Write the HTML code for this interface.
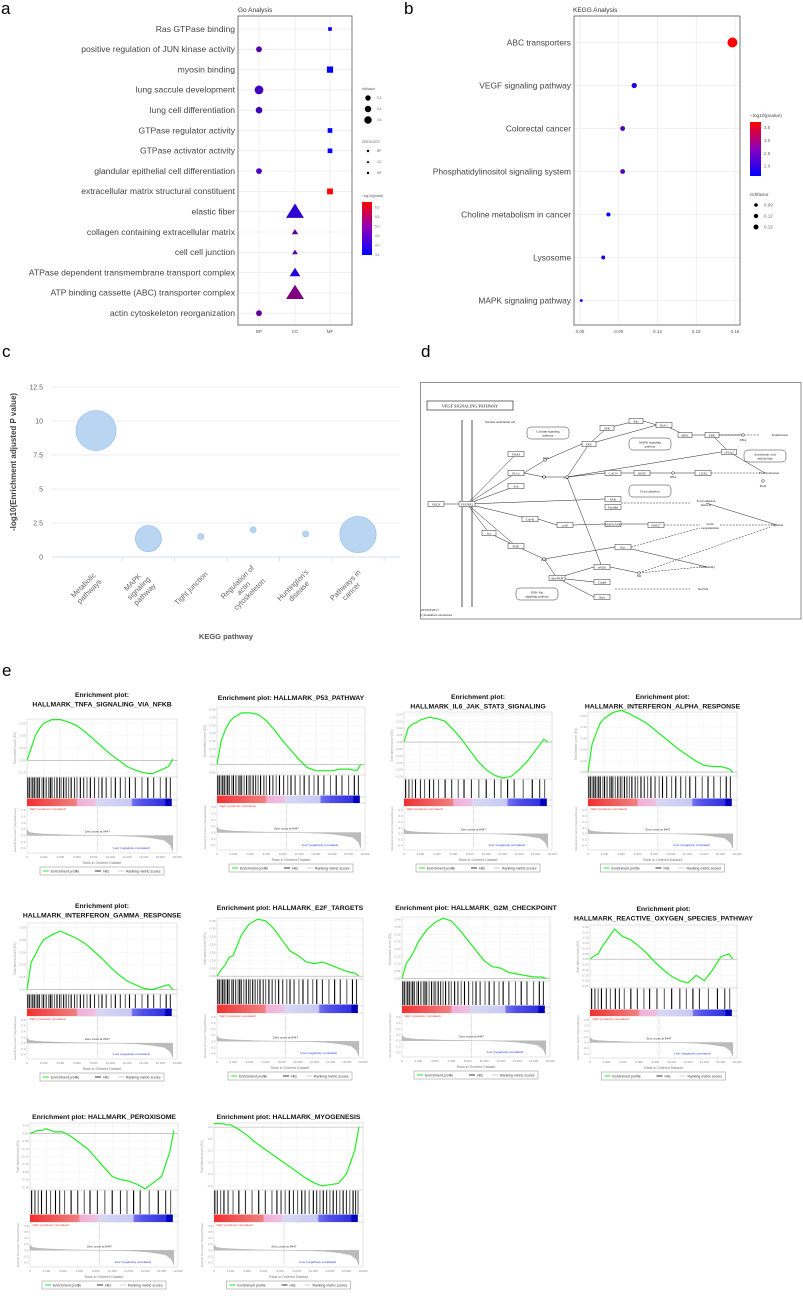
<!DOCTYPE html>
<html><head><meta charset="utf-8">
<style>
html,body{margin:0;padding:0;background:#fff;}
svg{display:block;font-family:"Liberation Sans",sans-serif;}
</style></head>
<body>
<svg id="fig" xmlns="http://www.w3.org/2000/svg" width="803" height="1296" viewBox="0 0 803 1296">
<defs>
<linearGradient id="gA" x1="0" y1="1" x2="0" y2="0"><stop offset="0" stop-color="#0000ff"/><stop offset="0.5" stop-color="#8a00c0"/><stop offset="1" stop-color="#ff0000"/></linearGradient>
<linearGradient id="gCB" x1="0" y1="0" x2="1" y2="0">
<stop offset="0" stop-color="#f03030"/><stop offset="0.2" stop-color="#f06060"/><stop offset="0.34" stop-color="#f08080"/><stop offset="0.35" stop-color="#f0b0d8"/><stop offset="0.47" stop-color="#f0c0e0"/><stop offset="0.48" stop-color="#d8d8f4"/><stop offset="0.72" stop-color="#c8c8f4"/><stop offset="0.73" stop-color="#7070f0"/><stop offset="0.8" stop-color="#5050e8"/><stop offset="0.95" stop-color="#3030e0"/><stop offset="0.96" stop-color="#0000c0"/><stop offset="1" stop-color="#0000b0"/></linearGradient>
</defs>
<g id="pa"></g>
<g id="pb"></g>
<g id="pc"></g>
<g id="pd"></g>
<g id="pe"></g>
</svg>
<script>
// ---------- Panel a data ----------
const goTerms = ["Ras GTPase binding","positive regulation of JUN kinase activity","myosin binding","lung saccule development","lung cell differentiation","GTPase regulator activity","GTPase activator activity","glandular epithelial cell differentiation","extracellular matrix structural constituent","elastic fiber","collagen  containing extracellular matrix","cell  cell junction","ATPase dependent transmembrane transport complex","ATP  binding cassette (ABC) transporter complex","actin cytoskeleton reorganization"];
const goOntology = ["MF","BP","MF","BP","BP","MF","MF","BP","MF","CC","CC","CC","CC","CC","BP"];
const goRich = [0.1,0.2,0.28,0.38,0.25,0.17,0.17,0.2,0.25,0.7,0.15,0.12,0.35,0.7,0.2];
const goPval = [3.5,4.3,3.4,4.1,4.1,3.5,3.5,4.2,6.2,3.9,4.4,4.4,3.8,4.8,4.5];
const goCats = ["BP","CC","MF"];
const goColorTicks = [6.0,5.5,5.0,4.5,4.0,3.5];
const goRichTicks = [0.2,0.4,0.6];
// ---------- Panel b data ----------
const keggTerms = ["ABC transporters","VEGF signaling pathway","Colorectal cancer","Phosphatidylinositol signaling system","Choline metabolism in cancer","Lysosome","MAPK signaling pathway"];
const keggRich = [0.178,0.102,0.093,0.093,0.082,0.078,0.061];
const keggPval = [3.7,1.9,2.2,2.3,1.6,1.8,1.65];
const keggXTicks = [0.06,0.09,0.12,0.15,0.18];
const keggColorTicks = [3.5,3.0,2.5,2.0];
const keggRichTicks = [0.09,0.12,0.15];
// ---------- Panel c data ----------
const cCats = [["Metabolic","pathways"],["MAPK","signaling","pathway"],["Tight junction"],["Regulation of","actin","cytoskeleton"],["Huntington's","disease"],["Pathways in","cancer"]];
const cVals = [9.3,1.35,1.5,2.0,1.7,1.65];
const cSizes = [400,170,9,9,9,330];
const cYTicks = [0,2.5,5,7.5,10,12.5];
// ---------- Panel e data ----------
const rankPos = [0,0.5,1,1.5,2,3,4,5,6,7,8,9,10,11,12,13,14,15,16,17,17.5];
const esTNFA = [0,0.1,0.2,0.26,0.3,0.33,0.33,0.31,0.28,0.23,0.17,0.11,0.05,0,-0.05,-0.08,-0.1,-0.11,-0.08,-0.05,0.01];
const esP53 = [0,0.15,0.22,0.27,0.3,0.33,0.33,0.32,0.28,0.22,0.15,0.09,0.03,-0.02,-0.04,-0.04,-0.04,-0.03,-0.03,-0.04,0];
const esIL6 = [0,0.1,0.13,0.14,0.16,0.18,0.17,0.15,0.09,0.02,-0.06,-0.14,-0.2,-0.24,-0.26,-0.25,-0.2,-0.14,-0.06,0.02,0];
const esIFNA = [0,0.25,0.35,0.44,0.48,0.53,0.55,0.52,0.48,0.44,0.38,0.32,0.26,0.2,0.15,0.1,0.06,0.05,0.05,0.03,0];
const esIFNG = [0,0.22,0.28,0.35,0.4,0.44,0.47,0.44,0.41,0.37,0.31,0.25,0.18,0.12,0.07,0.04,0.01,0,0.02,0.04,0];
const esE2F = [0,0.04,0.07,0.12,0.13,0.26,0.33,0.36,0.35,0.3,0.23,0.16,0.13,0.09,0.08,0.09,0.07,0.05,0.03,0.02,0];
const esG2M = [0,0.1,0.14,0.19,0.25,0.33,0.38,0.41,0.39,0.33,0.26,0.19,0.12,0.08,0.07,0.04,0.03,0.02,0.01,0.01,0];
const esROS = [0,0.03,0.05,0.12,0.17,0.28,0.21,0.18,0.12,0.05,-0.03,-0.1,-0.16,-0.2,-0.22,-0.15,-0.2,-0.1,0.02,0.05,0];
const esPEROX = [0,0.01,0.02,0.02,0.03,0.01,0.01,-0.02,-0.06,-0.1,-0.16,-0.22,-0.28,-0.3,-0.31,-0.33,-0.36,-0.32,-0.28,-0.12,0.02];
const esMYO = [0.03,0.03,0.03,0.02,0.02,-0.02,-0.07,-0.13,-0.18,-0.23,-0.28,-0.33,-0.38,-0.43,-0.47,-0.5,-0.49,-0.48,-0.4,-0.2,0];
const ticksTNFA = [0.3,0.2,0.1,0.0,-0.1];
const ticksP53 = [0.35,0.30,0.25,0.20,0.15,0.10,0.05,0.00,-0.05];
const ticksIL6 = [0.20,0.15,0.10,0.05,0.00,-0.05,-0.10,-0.15,-0.20,-0.25];
const ticksIFNA = [0.5,0.4,0.3,0.2,0.1,0.0];
const ticksIFNG = [0.5,0.4,0.3,0.2,0.1,0.0];
const ticksE2F = [0.35,0.30,0.25,0.20,0.15,0.10,0.05,0.00];
const ticksG2M = [0.40,0.35,0.30,0.25,0.20,0.15,0.10,0.05,0.00];
const ticksROS = [0.30,0.25,0.20,0.15,0.10,0.05,0.00,-0.05,-0.10,-0.15,-0.20,-0.25];
const ticksPEROX = [0.05,0.00,-0.05,-0.10,-0.15,-0.20,-0.25,-0.30,-0.35];
const ticksMYO = [0.0,-0.1,-0.2,-0.3,-0.4,-0.5];
const hitsDense = [0.1,0.3,0.5,0.7,0.9,1.1,1.3,1.5,1.8,2.0,2.3,2.6,2.8,3.0,3.3,3.6,3.9,4.1,4.4,4.7,5.0,5.3,5.7,6.0,6.4,6.8,7.2,7.6,8.1,8.6,9.0,9.5,10.1,10.6,11.2,11.8,12.3,13.0,13.8,14.5,15.2,16.0,16.7,17.2];
const hitsSparse = [0.2,0.6,1.0,1.4,2.0,2.5,3.1,3.6,4.2,5.0,5.8,6.6,7.3,8.2,9.1,10.0,11.0,11.8,12.6,13.4,14.5,15.6,16.5,17.1];
const hitsLate = [0.1,0.4,0.8,1.2,1.7,2.3,3.0,3.8,4.6,5.4,6.2,7.0,7.6,8.1,8.6,9.1,9.6,10.1,10.6,11.0,11.5,12.0,12.4,12.8,13.2,13.6,14.0,14.4,14.8,15.2,15.6,16.0,16.4,16.8,17.1,17.4];
const metricRanks = [0,0.3,1,2,3,4,5,6,7,8,8.45,10,11,12,13,14,15,16.5,17.2,17.5];
const metricVals = [0.18,0.1,0.07,0.05,0.04,0.03,0.02,0.015,0.01,0.005,0,-0.005,-0.01,-0.02,-0.03,-0.05,-0.08,-0.15,-0.3,-0.5];
const metricTicks = [0.8,0.6,0.4,0.2,0.0,-0.2,-0.4];
const rankTicks = [0,2,4,6,8,10,12,14,16,18];

const NS = "http://www.w3.org/2000/svg";
function el(tag, attrs, parent, txt){
  const e = document.createElementNS(NS, tag);
  for (const k in attrs) e.setAttribute(k, attrs[k]);
  if (txt !== undefined) e.textContent = txt;
  parent.appendChild(e);
  return e;
}
function colBR(v, lo, hi){
  let t = Math.max(0, Math.min(1, (v-lo)/(hi-lo)));
  const r = Math.round(255*t), b = Math.round(255*(1-t)), g = 0;
  return `rgb(${r},${g},${b})`;
}
const fig = document.getElementById('fig');
let lab;
lab = el('text',{x:1,y:14,'font-size':17,fill:'#000'},fig,'a');
 
lab = el('text',{x:404,y:14,'font-size':17,fill:'#000'},fig,'b');
 
lab = el('text',{x:2,y:357,'font-size':17,fill:'#000'},fig,'c');
 
lab = el('text',{x:421,y:357,'font-size':17,fill:'#000'},fig,'d');
 
lab = el('text',{x:2,y:676,'font-size':17,fill:'#000'},fig,'e');
 

// ================= Panel a =================
(function(){
  const g = document.getElementById('pa');
  const L=238,R=352,T=16,B=325;
  const rowY = i => 29 + i*20.3;
  const colX = c => ({BP:259,CC:295,MF:330})[c];
  let t = el('text',{x:238,y:12,'font-size':6.5,fill:'#333'},g,'Go Analysis');
   
  goTerms.forEach((s,i)=>{ const gl = el('line',{x1:L,x2:R,y1:rowY(i),y2:rowY(i),stroke:'#ebebeb','stroke-width':0.8},g);
      });
  goCats.forEach(c=>{ const gl = el('line',{x1:colX(c),x2:colX(c),y1:T,y2:B,stroke:'#ebebeb','stroke-width':0.8},g);
     
    const tl = el('text',{x:colX(c),y:333,'font-size':4.5,fill:'#555','text-anchor':'middle'},g,c);
      });
  const box = el('rect',{x:L,y:T,width:R-L,height:B-T,fill:'none',stroke:'#555','stroke-width':0.8},g);
   
  goTerms.forEach((s,i)=>{
    const tl = el('text',{x:235,y:rowY(i)+2.8,'font-size':8.6,fill:'#444','text-anchor':'end'},g,s);
     
    const x = colX(goOntology[i]), y = rowY(i), sz = 1.5 + goRich[i]*9.5, c = colBR(goPval[i],3.4,6.2);
    let m;
    if (goOntology[i]==='BP') m = el('circle',{cx:x,cy:y,r:sz*0.85,fill:c},g);
    else if (goOntology[i]==='MF') m = el('rect',{x:x-sz*0.75,y:y-sz*0.75,width:sz*1.5,height:sz*1.5,fill:c},g);
    else m = el('polygon',{points:`${x},${y-sz} ${x-sz*1.1},${y+sz*0.75} ${x+sz*1.1},${y+sz*0.75}`,fill:c},g);
     
  });
  t = el('text',{x:362,y:90,'font-size':3.2,fill:'#555'},g,'richfactor');
   
  goRichTicks.forEach((v,i)=>{ const y=98+i*11;
    const d = el('circle',{cx:368,cy:y,r:2.2+v*2.5,fill:'#000'},g);
     
    const l = el('text',{x:377,y:y+1.2,'font-size':3.2,fill:'#666'},g,v.toFixed(1));
      });
  t = el('text',{x:362,y:143,'font-size':3.2,fill:'#555'},g,'ONTOLOGY');
   
  goCats.forEach((c,i)=>{ const y=151+i*11; let m;
    if(c==='BP') m=el('circle',{cx:368,cy:y,r:1.2,fill:'#000'},g);
    else if(c==='CC') m=el('polygon',{points:`368,${y-1.5} 366.5,${y+1} 369.5,${y+1}`,fill:'#000'},g);
    else m=el('rect',{x:366.9,y:y-1.1,width:2.2,height:2.2,fill:'#000'},g);
     
    const l=el('text',{x:377,y:y+1.2,'font-size':3.2,fill:'#666'},g,c);
      });
  t = el('text',{x:362,y:197,'font-size':3.2,fill:'#555'},g,'−log10(pvalue)');
   
  const cb = el('rect',{x:362,y:202,width:10,height:53,fill:'url(#gA)'},g);
   
  goColorTicks.forEach(v=>{ const y = 254.6-(v-3.5)*19;
    const l=el('text',{x:375,y:y+1.2,'font-size':3.2,fill:'#666'},g,v.toFixed(1));
      });
})();

// ================= Panel b =================
(function(){
  const g = document.getElementById('pb');
  const L=574,R=740,T=16,B=325;
  const xS = v => 580 + (v-0.06)/0.12*155;
  const rowY = i => 42.5 + i*43;
  let t = el('text',{x:573,y:12,'font-size':6.5,fill:'#333'},g,'KEGG Analysis');
   
  keggXTicks.forEach(v=>{ const gl=el('line',{x1:xS(v),x2:xS(v),y1:T,y2:B,stroke:'#ebebeb','stroke-width':0.8},g);
     
    const tl=el('text',{x:xS(v),y:333,'font-size':4.5,fill:'#555','text-anchor':'middle'},g,v.toFixed(2));
      });
  keggTerms.forEach((s,i)=>{ const gl=el('line',{x1:L,x2:R,y1:rowY(i),y2:rowY(i),stroke:'#ebebeb','stroke-width':0.8},g);
      });
  const box = el('rect',{x:L,y:T,width:R-L,height:B-T,fill:'none',stroke:'#555','stroke-width':0.8},g);
   
  keggTerms.forEach((s,i)=>{
    const tl=el('text',{x:571,y:rowY(i)+2.8,'font-size':8.4,fill:'#444','text-anchor':'end'},g,s);
     
    const p=el('circle',{cx:xS(keggRich[i]),cy:rowY(i),r:1.4+(keggRich[i]-0.06)*30,fill:colBR(keggPval[i],1.6,3.7)},g);
     
  });
  t=el('text',{x:750,y:117,'font-size':4.8,fill:'#444'},g,'−log10(pvalue)');
   
  const cb=el('rect',{x:750,y:122,width:11,height:54,fill:'url(#gA)'},g);
   
  keggColorTicks.forEach(v=>{ const y=166-(v-2)*25.7;
    const l=el('text',{x:764,y:y+1.6,'font-size':4.5,fill:'#666'},g,v.toFixed(1));
      });
  t=el('text',{x:750,y:196,'font-size':4.5,fill:'#444'},g,'richfactor');
   
  keggRichTicks.forEach((v,i)=>{ const y=205+i*11;
    const d=el('circle',{cx:756,cy:y,r:1.8+(v-0.09)*12,fill:'#000'},g);
     
    const l=el('text',{x:764,y:y+1.6,'font-size':4.5,fill:'#666'},g,v.toFixed(2));
      });
})();

// ================= Panel c =================
(function(){
  const g=document.getElementById('pc');
  const L=52,R=400, y0=557, k=13.6;
  const yS = v => y0 - v*k;
  const xS = i => 96 + i*52.4;
  cYTicks.forEach(v=>{ const gl=el('line',{x1:L,x2:R,y1:yS(v),y2:yS(v),stroke:v===0?'#d5e0ee':'#e8eef6','stroke-width':1},g);
     
    const tl=el('text',{x:43,y:yS(v)+2.5,'font-size':7,fill:'#666','text-anchor':'end'},g,String(v));
      });
  for(let i=1;i<=cCats.length;i++){ const x=xS(i)-26.2;
    const tk=el('line',{x1:x,x2:x,y1:y0,y2:y0+4,stroke:'#d5e0ee','stroke-width':1},g);
      }
  cCats.forEach((lines,i)=>{
    const b=el('circle',{cx:xS(i),cy:yS(cVals[i]),r:Math.sqrt(cSizes[i]),fill:'#b9d5f2',stroke:'#8fbbe8','stroke-width':0.6},g);
     
    const n=lines.length;
    const tx=el('text',{transform:`translate(${xS(i)-8},${590}) rotate(-45)`,'font-size':7.4,fill:'#666','text-anchor':'middle'},g);
     
    lines.forEach((s,j)=>{ el('tspan',{x:0,y:(j-(n-1)/2)*8.5},tx,s); });
  });
  let t=el('text',{transform:'translate(16,462) rotate(-90)','font-size':8,'font-weight':'bold',fill:'#444','text-anchor':'middle'},g,'-log10(Enrichment adjusted P value)');
   
  t=el('text',{x:226,y:639,'font-size':7.5,'font-weight':'bold',fill:'#555','text-anchor':'middle'},g,'KEGG pathway');
   
})();

// ================= Panel d (diagram) =================
(function(){
  const g=document.getElementById('pd');
  const fr=el('rect',{x:420.5,y:382.5,width:380.5,height:236.5,fill:'#fff',stroke:'#777','stroke-width':0.8},g);
   
  const tb=el('rect',{x:427,y:401,width:86,height:9,fill:'none',stroke:'#333','stroke-width':0.7},g);
   
  let t=el('text',{x:470,y:407.5,'font-size':4.3,'font-family':'Liberation Serif',fill:'#111','text-anchor':'middle'},g,'VEGF SIGNALING PATHWAY');
   
  [462,472].forEach(x=>{ const l=el('line',{x1:x,x2:x,y1:420,y2:607,stroke:'#444','stroke-width':0.9},g);
      });
  const nodes=[["VRAP",516,454,16],["PLCγ",516,473,16],["Sck",516,486,16],["VEGF",436,504,16],["VEGFR2",467,504,16],["PKC",589,444,14],["SPK",607,428,14],["Ras",636,421,14],["Raf-1",664,425,16],["MEK",685,435,14],["ERK",712,435,14],["cPLA2",729,452,15],["CALN",613,473,16],["NFAT",642,473,16],["COX2",703,473,16],["FAK",613,499,16],["Paxillin",613,507,16],["Cdc42",530,519,16],["p38",565,525,16],["MAPKAPK",613,524,16],["HSP27",656,525,16],["Src",489,533,14],["PI3K",516,546,16],["Rac",623,547,16],["eNOS",602,567,16],["Akt/PKB",557,578,16],["Casp9",602,582,16],["Bad",602,597,16]];
  const links=[[467,504,516,454],[467,504,516,473],[467,504,516,486],[436,504,459,504],[467,504,605,499],[467,504,530,519],[467,504,489,533],[467,504,516,546],[524,473,545,460],[545,460,582,444],[524,473,544,477],[544,477,567,477],[567,477,589,444],[589,444,607,428],[607,428,636,421],[589,444,657,425],[643,421,657,425],[664,425,685,435],[692,435,705,435],[712,435,743,435],[567,477,605,473],[621,473,634,473],[650,473,695,473],[567,477,721,452],[712,435,729,452],[729,452,765,473],[567,477,602,567],[538,519,557,525],[573,525,605,524],[621,524,648,524],[489,533,516,546],[516,546,544,559],[544,559,615,547],[544,559,557,578],[557,578,594,567],[557,578,594,582],[557,578,594,597],[623,547,707,567],[610,567,639,573],[706,503,777,525]];
  links.forEach(a=>{ const l=el('line',{x1:a[0],y1:a[1],x2:a[2],y2:a[3],stroke:'#222','stroke-width':0.5},g);
      });
  const dashed=[[621,503,690,503],[664,525,700,525],[720,525,770,525],[631,547,700,528],[712,435,760,435],[711,473,760,473],[639,573,700,567],[639,573,770,527],[615,589,690,589]];
  dashed.forEach(a=>{ const l=el('line',{x1:a[0],y1:a[1],x2:a[2],y2:a[3],stroke:'#222','stroke-width':0.5,'stroke-dasharray':'2,1.2'},g);
      });
  nodes.forEach(n=>{ const r=el('rect',{x:n[1]-n[3]/2,y:n[2]-2.6,width:n[3],height:5.2,fill:'#fff',stroke:'#333','stroke-width':0.5},g);
     
    const tx=el('text',{x:n[1],y:n[2]+1.3,'font-size':3.3,'font-family':'Liberation Serif',fill:'#111','text-anchor':'middle'},g,n[0]);
      });
  const rounds=[["Calcium signaling","pathway",548,433,42],["MAPK signaling","pathway",650,444,42],["Arachidonic acid","metabolism",765,456,42],["Focal adhesion","",650,491,42],["PI3K-Akt","signaling pathway",537,594,42]];
  rounds.forEach(n=>{ const r=el('rect',{x:n[2]-n[4]/2,y:n[3]-6,width:n[4],height:12,rx:4,fill:'#fff',stroke:'#333','stroke-width':0.5},g);
     
    const tx=el('text',{x:n[2],y:n[1]?n[3]-0.5:n[3]+1.3,'font-size':3.2,'font-family':'Liberation Serif',fill:'#111','text-anchor':'middle'},g,n[0]);
     
    if(n[1]){ const t2=el('text',{x:n[2],y:n[3]+3.3,'font-size':3.2,'font-family':'Liberation Serif',fill:'#111','text-anchor':'middle'},g,n[1]);
        } });
  const labels=[["Vascular endothelial cell",500,423],["Proliferation",780,436],["PGI2production",769,474],["PGI2",763,487],["Focal adhesion",706,502],["turnover",706,506],["Migration",777,526],["Actin",710,525],["reorganization",710,529],["Permeability",707,568],["Survival",703,590],["DAG",546,459],["IP3",544,478],["Ca2+",567,479],["DNA",743,441],["DNA",673,478],["PIP3",544,561],["NO",639,577],["04370 8/28/17",430,611],["(c) Kanehisa Laboratories",436,616]];
  labels.forEach(n=>{ const tx=el('text',{x:n[1],y:n[2],'font-size':3.1,'font-family':'Liberation Serif',fill:'#111','text-anchor':'middle'},g,n[0]);
      });
  [[545,460],[544,477],[567,477],[743,435],[673,473],[544,559],[639,573],[763,481]].forEach(p=>{
    const c=el('circle',{cx:p[0],cy:p[1],r:1.3,fill:'#fff',stroke:'#222','stroke-width':0.5},g);
      });
})();

// ================= Panel e (GSEA) =================
const gseaCfg = [
 {t:["Enrichment plot:","HALLMARK_TNFA_SIGNALING_VIA_NFKB"],ty:697,x0:27,x1:177,es:esTNFA,tk:ticksTNFA,hits:hitsDense,a:719,b:777,h:800,c:806,m:853},
 {t:["Enrichment plot: HALLMARK_P53_PATHWAY"],ty:700,x0:217,x1:365,es:esP53,tk:ticksP53,hits:hitsDense,a:707,b:775,h:797,c:803,m:850},
 {t:["Enrichment plot:","HALLMARK_IL6_JAK_STAT3_SIGNALING"],ty:699,x0:404,x1:552,es:esIL6,tk:ticksIL6,hits:hitsSparse,a:712,b:779,h:800,c:806,m:850},
 {t:["Enrichment plot:","HALLMARK_INTERFERON_ALPHA_RESPONSE"],ty:699,x0:588,x1:737,es:esIFNA,tk:ticksIFNA,hits:hitsDense,a:712,b:776,h:800,c:806,m:850},
 {t:["Enrichment plot:","HALLMARK_INTERFERON_GAMMA_RESPONSE"],ty:908,x0:27,x1:177,es:esIFNG,tk:ticksIFNG,hits:hitsDense,a:923,b:994,h:1010,c:1016,m:1059},
 {t:["Enrichment plot: HALLMARK_E2F_TARGETS"],ty:910,x0:217,x1:363,es:esE2F,tk:ticksE2F,hits:hitsDense,a:918,b:979,h:1006,c:1013,m:1058},
 {t:["Enrichment plot: HALLMARK_G2M_CHECKPOINT"],ty:910,x0:402,x1:550,es:esG2M,tk:ticksG2M,hits:hitsDense,a:917,b:981,h:1007,c:1013,m:1057},
 {t:["Enrichment plot:","HALLMARK_REACTIVE_OXYGEN_SPECIES_PATHWAY"],ty:911,x0:590,x1:737,es:esROS,tk:ticksROS,hits:hitsSparse,a:925,b:988,h:1011,c:1016,m:1058},
 {t:["Enrichment plot: HALLMARK_PEROXISOME"],ty:1119,x0:30,x1:178,es:esPEROX,tk:ticksPEROX,hits:hitsSparse,a:1123,b:1190,h:1216,c:1222,m:1267},
 {t:["Enrichment plot: HALLMARK_MYOGENESIS"],ty:1119,x0:214,x1:363,es:esMYO,tk:ticksMYO,hits:hitsLate,a:1123,b:1190,h:1216,c:1222,m:1267}
];
(function(){
  const pe=document.getElementById('pe');
  gseaCfg.forEach(cf=>{
    const g=el('g',{},pe);
     
    const xs = r => cf.x0 + r/18*(cf.x1-cf.x0);
    const cx=(cf.x0+cf.x1)/2;
    cf.t.forEach((s,i)=>{ const tt=el('text',{x:cx,y:cf.ty+i*9.5,'font-size':6.8,'font-weight':'bold',fill:'#111','text-anchor':'middle'},g,s);
        });
    const stepT = Math.abs(cf.tk[0]-cf.tk[1]);
    const ymax = cf.tk[0]+stepT*0.35, ymin = cf.tk[cf.tk.length-1]-stepT*0.35;
    const ys = v => cf.a + (ymax-v)/(ymax-ymin)*(cf.b-cf.a);
    rankTicks.forEach(r=>{ const gl=el('line',{x1:xs(r),x2:xs(r),y1:cf.a,y2:cf.b,stroke:'#eee','stroke-width':0.4},g);
        });
    cf.tk.forEach(v=>{ const gl=el('line',{x1:cf.x0,x2:cf.x1,y1:ys(v),y2:ys(v),stroke:'#eee','stroke-width':0.4},g);
       
      const tl=el('text',{x:cf.x0-1.5,y:ys(v)+1,'font-size':3,fill:'#999','text-anchor':'end'},g,v.toFixed(stepT<0.1?2:1));
        });
    const fr=el('rect',{x:cf.x0,y:cf.a,width:cf.x1-cf.x0,height:cf.m-cf.a,fill:'none',stroke:'#ccc','stroke-width':0.5},g);
     
    const z=el('line',{x1:cf.x0,x2:cf.x1,y1:ys(0),y2:ys(0),stroke:'#aaa','stroke-width':0.6},g);
     
    const pts = cf.es.map((v,i)=>`${xs(rankPos[i]).toFixed(1)},${ys(v).toFixed(1)}`).join(' ');
    const pl=el('polyline',{points:pts,fill:'none',stroke:'#22ee22','stroke-width':1.2},g);
     
    const yl=el('text',{transform:`translate(${cf.x0-11},${(cf.a+cf.b)/2}) rotate(-90)`,'font-size':3.2,fill:'#999','text-anchor':'middle'},g,'Enrichment score (ES)');
     
    [cf.b,cf.h,cf.c].forEach(y=>{ const l=el('line',{x1:cf.x0,x2:cf.x1,y1:y,y2:y,stroke:'#bbb','stroke-width':0.5},g);
        });
    cf.hits.forEach((r,i)=>{ const l=el('line',{x1:xs(r),x2:xs(r),y1:cf.b+0.5,y2:cf.h-2,stroke:(i%3===0)?'#000':(i%3===1?'#333':'#666'),'stroke-width':1.1},g);
        });
    const cb=el('rect',{x:cf.x0,y:cf.h-1.5,width:(cf.x1-cf.x0)*0.965,height:cf.c-cf.h+1.5,fill:'url(#gCB)'},g);
     
    const mTop=cf.c+1, mBot=cf.m;
    const ms = v => mTop + (0.9-v)/1.45*(mBot-mTop);
    metricTicks.forEach(v=>{ const tl=el('text',{x:cf.x0-1.5,y:ms(v)+1,'font-size':3,fill:'#999','text-anchor':'end'},g,v.toFixed(1));
        });
    const ap = metricRanks.map((r,i)=>`${xs(r).toFixed(1)},${ms(metricVals[i]).toFixed(1)}`);
    const area=el('polygon',{points:`${xs(0)},${ms(0)} ${ap.join(' ')} ${xs(17.5)},${ms(0)}`,fill:'#bbb',stroke:'#aaa','stroke-width':0.3},g);
     
    const dz=el('line',{x1:xs(8.447),x2:xs(8.447),y1:mTop,y2:mBot,stroke:'#999','stroke-width':0.4,'stroke-dasharray':'1,1'},g);
     
    let tt=el('text',{x:cf.x0+2,y:mTop+3,'font-size':3,fill:'#e33'},g,"'High' (positively correlated)");
     
    tt=el('text',{x:xs(8.447),y:ms(0)-3,'font-size':3,fill:'#333','text-anchor':'middle'},g,'Zero cross at 8447');
     
    tt=el('text',{x:xs(12.5),y:ms(-0.42),'font-size':3,fill:'#33e','text-anchor':'middle'},g,"'Low' (negatively correlated)");
     
    tt=el('text',{transform:`translate(${cf.x0-11},${(mTop+mBot)/2}) rotate(-90)`,'font-size':3,fill:'#999','text-anchor':'middle'},g,'Ranked list metric (Signal2Noise)');
     
    rankTicks.forEach(r=>{ const tl=el('text',{x:xs(r),y:cf.m+5,'font-size':3,fill:'#888','text-anchor':'middle'},g,r===0?'0':(r+',000'));
        });
    tt=el('text',{x:cx,y:cf.m+11,'font-size':3.5,fill:'#777','text-anchor':'middle'},g,'Rank in Ordered Dataset');
     
    const ly=cf.m+14, lx=cx-62;
    const lb=el('rect',{x:lx,y:ly,width:124,height:8,fill:'#fff',stroke:'#888','stroke-width':0.5},g);
     
    const items=[["Enrichment profile",'#22ee22',3],["Hits",'#333',55],["Ranking metric scores",'#ccc',78]];
    items.forEach(it=>{ const s=el('line',{x1:lx+it[2],x2:lx+it[2]+6,y1:ly+4,y2:ly+4,stroke:it[1],'stroke-width':1},g);
       
      const l=el('text',{x:lx+it[2]+8,y:ly+5.3,'font-size':3.5,fill:'#333'},g,it[0]);
        });
  });
})();
</script>
</body></html>
